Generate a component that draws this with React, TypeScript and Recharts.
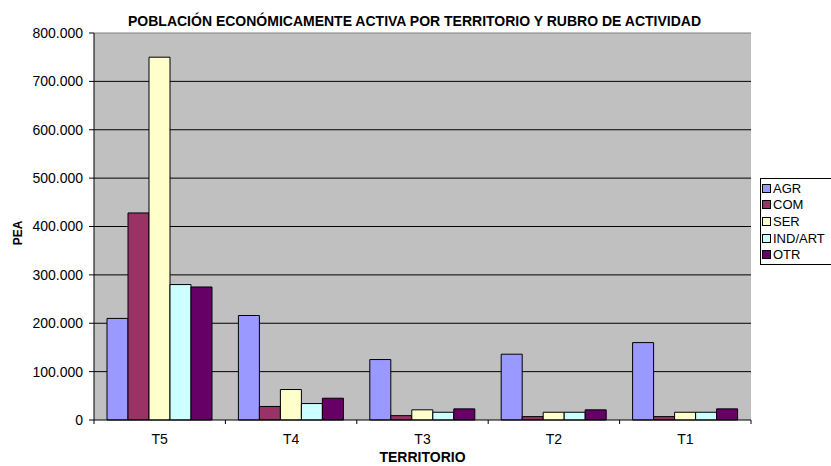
import React from 'react';
import { BarChart, Bar, XAxis, YAxis, CartesianGrid, ReferenceLine, Label } from 'recharts';

const categories = ['T5', 'T4', 'T3', 'T2', 'T1'];
const agr = [210000, 216000, 125000, 136000, 160000];
const com = [428000, 28000, 9000, 7000, 7000];
const ser = [750000, 63000, 21000, 16000, 16000];
const ind = [280000, 34000, 16000, 16000, 16000];
const otr = [275000, 45000, 23000, 21000, 23000];
const yTicks = [0, 100000, 200000, 300000, 400000, 500000, 600000, 700000, 800000];
const gridValues = [100000, 200000, 300000, 400000, 500000, 600000, 700000];

const seriesNames = ['AGR', 'COM', 'SER', 'IND/ART', 'OTR'];
const seriesKeys = ['agr', 'com', 'ser', 'ind', 'otr'];
const colors = ['#9999FF', '#993366', '#FFFFCC', '#CCFFFF', '#660066'];

const data = categories.map((c, i) => ({
  name: c,
  agr: agr[i],
  com: com[i],
  ser: ser[i],
  ind: ind[i],
  otr: otr[i],
}));

const W = 831;
const H = 466;
const margin = { top: 33, right: 80, bottom: 0, left: 34 };
const Y_W = 60;
const BAND = (W - margin.left - Y_W - margin.right) / categories.length;
const FONT = '"Liberation Sans", Arial, sans-serif';

const fmt = (v: number) => String(v).replace(/\B(?=(\d{3})+(?!\d))/g, '.');

const XTick = (props: any) => {
  const { x, y, payload, index } = props;
  const last = index === categories.length - 1;
  return (
    <g>
      <line x1={x - BAND / 2} x2={x - BAND / 2} y1={y} y2={y + 4} stroke="#000" />
      {last && <line x1={x + BAND / 2} x2={x + BAND / 2} y1={y} y2={y + 4} stroke="#000" />}
      <text x={x} y={y + 24} textAnchor="middle" fontSize={14} fontFamily={FONT} fill="#000">
        {payload.value}
      </text>
    </g>
  );
};

const LegendBox = () => (
  <div
    style={{
      position: 'absolute',
      left: 760,
      top: 178,
      border: '1px solid #000',
      background: '#fff',
      padding: '1px 0 1px 1px',
      width: 90,
      fontFamily: FONT,
      fontSize: 13,
      color: '#000',
    }}
  >
    {seriesNames.map((n, i) => (
      <div key={n} style={{ height: 16.6, display: 'flex', alignItems: 'center' }}>
        <span
          style={{
            display: 'inline-block',
            width: 7,
            height: 7,
            border: '1px solid #000',
            background: colors[i],
            marginRight: 2,
          }}
        />
        <span style={{ lineHeight: '13px' }}>{n}</span>
      </div>
    ))}
  </div>
);

export default function App() {
  return (
    <div style={{ position: 'absolute', left: 0, top: 0, width: W, height: H, background: '#fff', overflow: 'hidden' }}>
      <div
        style={{
          position: 'absolute',
          left: 0,
          width: 829,
          top: 14,
          textAlign: 'center',
          fontFamily: FONT,
          fontWeight: 'bold',
          fontSize: 14,
          lineHeight: '14px',
          color: '#000',
          zIndex: 2,
        }}
      >
        POBLACIÓN ECONÓMICAMENTE ACTIVA POR TERRITORIO Y RUBRO DE ACTIVIDAD
      </div>
      <BarChart width={W} height={H} data={data} margin={margin} barCategoryGap={13} barGap={0}>
        <CartesianGrid fill="#C0C0C0" stroke="#000" vertical={false} horizontalValues={gridValues} />
        <XAxis
          dataKey="name"
          height={46}
          axisLine={{ stroke: '#000' }}
          tickLine={false}
          tickSize={0}
          tickMargin={0}
          tick={<XTick />}
          interval={0}
        >
          <Label
            content={() => (
              <text x={422.5} y={462} textAnchor="middle" fontSize={14} fontWeight="bold" fontFamily={FONT} fill="#000">
                TERRITORIO
              </text>
            )}
          />
        </XAxis>
        <YAxis
          width={Y_W}
          domain={[0, 800000]}
          ticks={yTicks}
          interval={0}
          tickFormatter={fmt}
          axisLine={{ stroke: '#000' }}
          tickLine={{ stroke: '#000' }}
          tickSize={5}
          tickMargin={6}
          tick={{ fontSize: 14, fontFamily: FONT, fill: '#000' }}
        >
          <Label
            content={() => (
              <text
                x={18}
                y={233}
                transform="rotate(-90 18 233)"
                textAnchor="middle"
                dominantBaseline="central"
                fontSize={12}
                fontWeight="bold"
                fontFamily={FONT}
                fill="#000"
              >
                PEA
              </text>
            )}
          />
        </YAxis>
        <YAxis yAxisId="r" orientation="right" width={0} domain={[0, 800000]} tick={false} tickLine={false} axisLine={{ stroke: '#808080' }} />
        <ReferenceLine y={800000} stroke="#808080" />
        {seriesKeys.map((k, i) => (
          <Bar key={k} dataKey={k} name={seriesNames[i]} fill={colors[i]} stroke="#000" strokeWidth={1} isAnimationActive={false} />
        ))}
      </BarChart>
      <LegendBox />
    </div>
  );
}
